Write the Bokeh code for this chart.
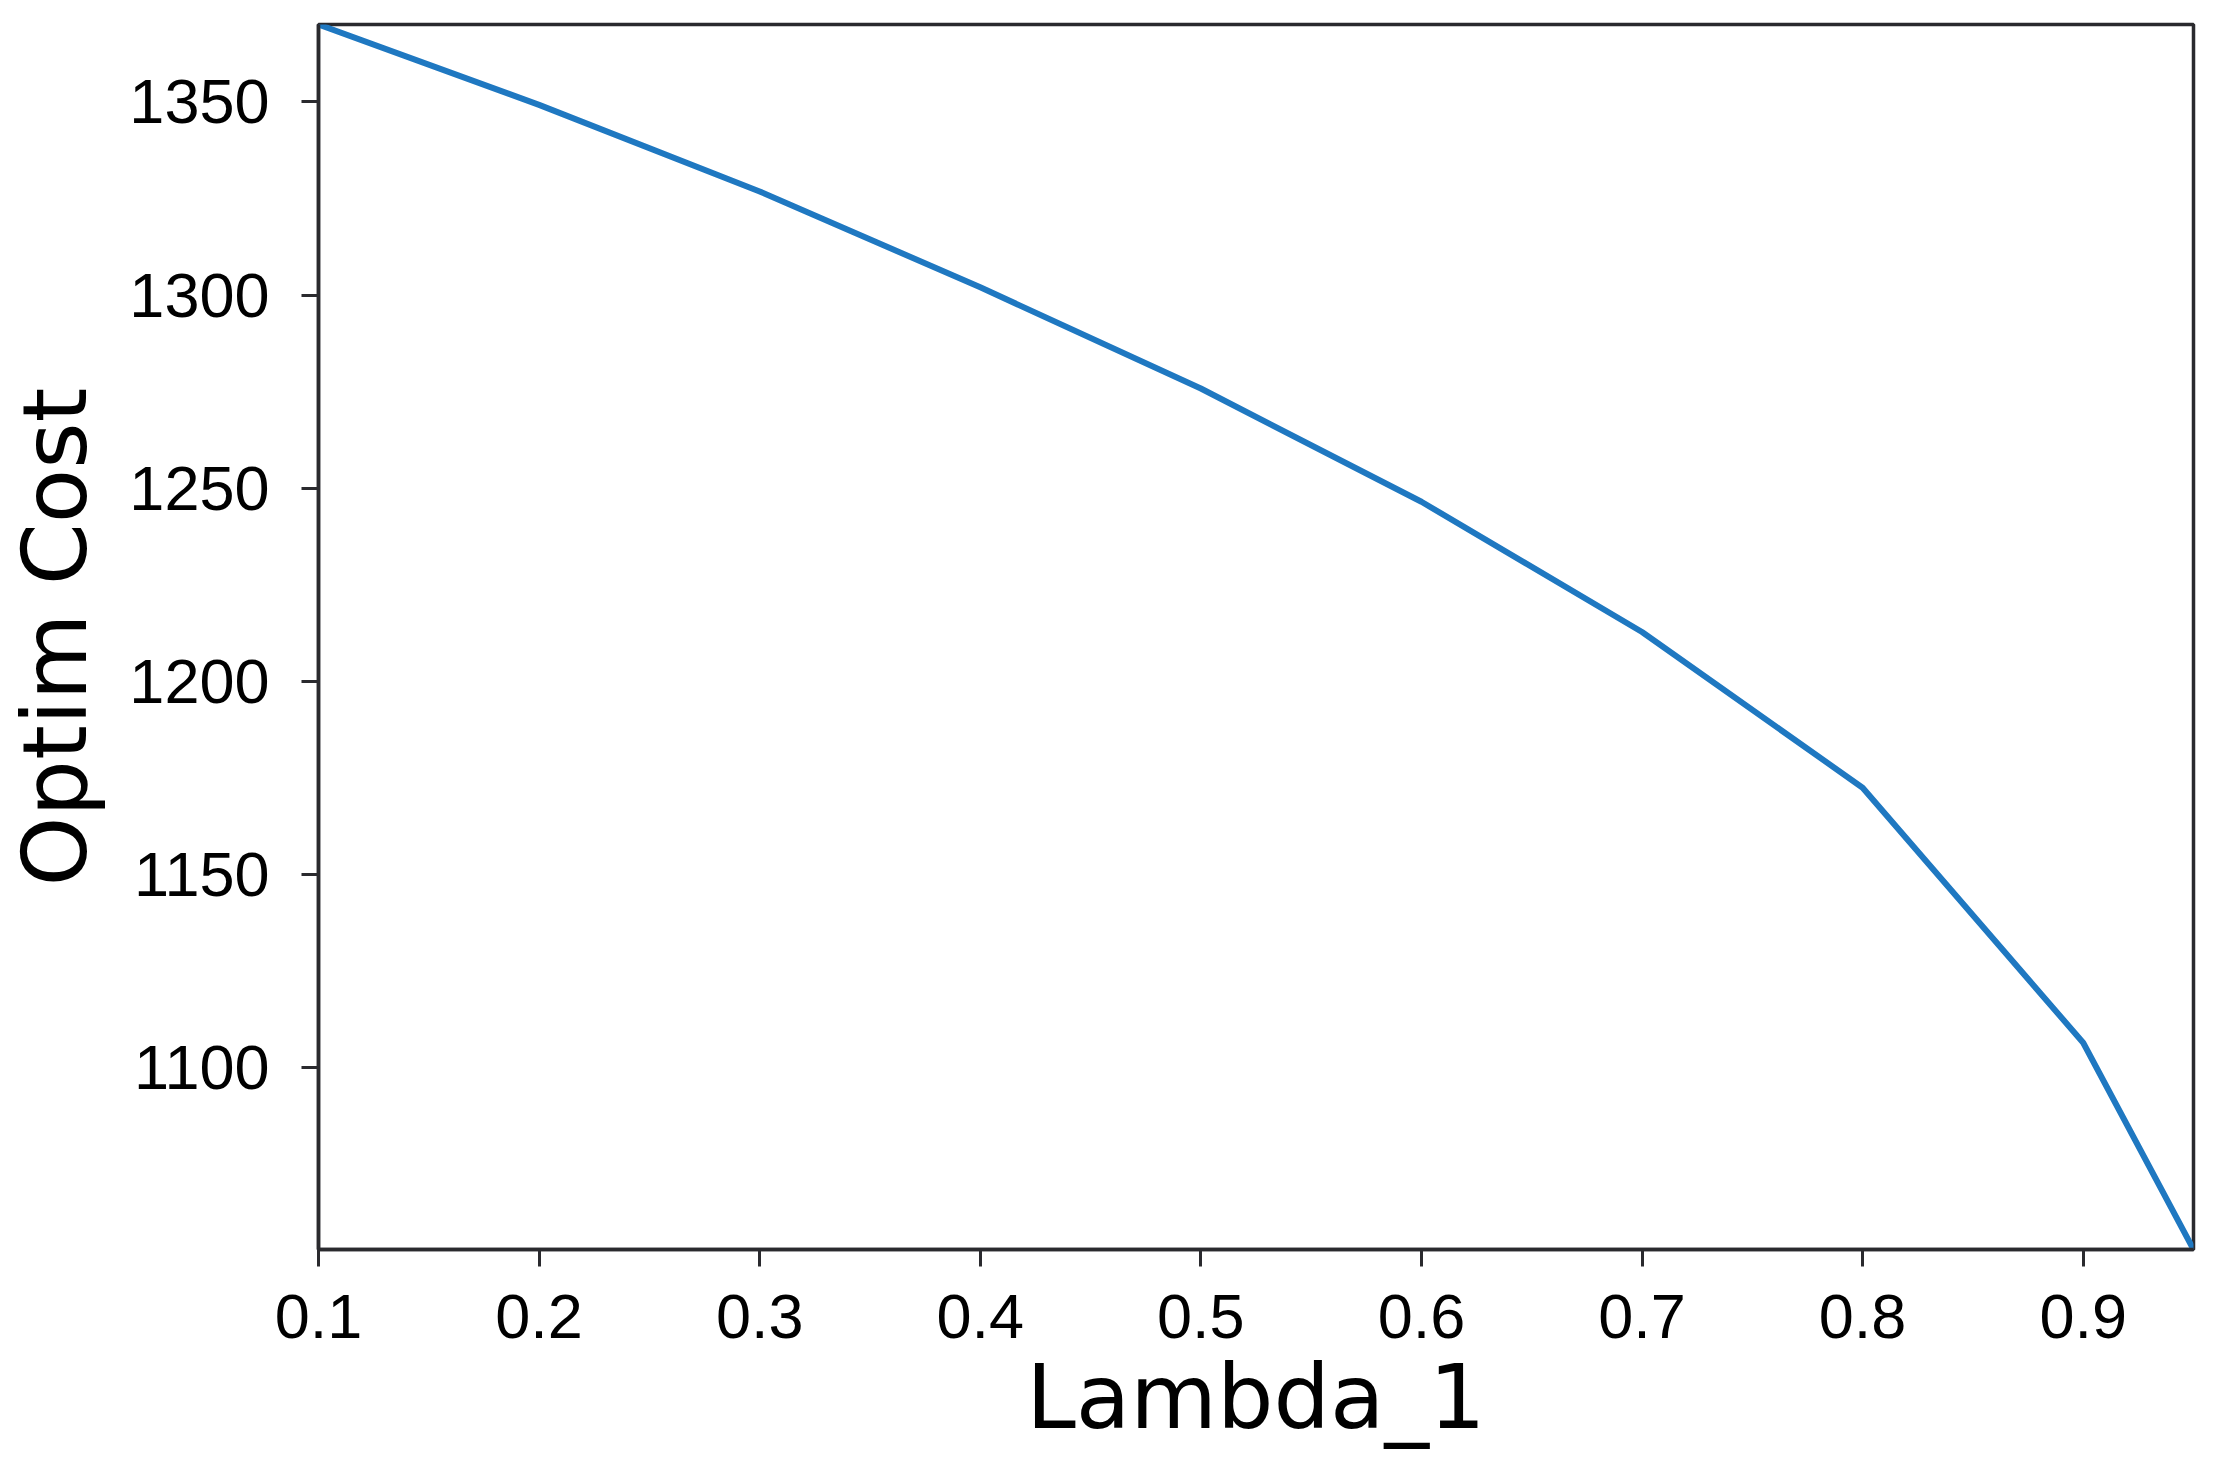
from bokeh.plotting import figure
from bokeh.models import Range1d, FixedTicker
from bokeh.embed import file_html
from bokeh.resources import INLINE

# data
lambda_1 = [0.1, 0.2, 0.3, 0.4, 0.5, 0.6, 0.7, 0.8, 0.9, 0.95]
optim_cost = [1370.0, 1349.2, 1326.8, 1302.0, 1275.8, 1246.5, 1212.8, 1172.5, 1106.5, 1053.0]
x_ticks = [0.1, 0.2, 0.3, 0.4, 0.5, 0.6, 0.7, 0.8, 0.9]
y_ticks = [1100, 1150, 1200, 1250, 1300, 1350]

p = figure(width=2203, height=1451, output_backend="svg", toolbar_location=None,
           x_range=Range1d(0.1, 0.95), y_range=Range1d(1053, 1370),
           min_border_left=310, min_border_top=24, min_border_right=10, min_border_bottom=201)

p.line(lambda_1, optim_cost, line_color="#1f78c1", line_width=6)

p.xgrid.visible = False
p.ygrid.visible = False
p.background_fill_color = "white"
p.border_fill_color = "white"
p.outline_line_color = "#2a2a2e"
p.outline_line_width = 3.5
p.outline_line_alpha = 1.0

p.xaxis.ticker = FixedTicker(ticks=x_ticks)
p.yaxis.ticker = FixedTicker(ticks=y_ticks)

for ax in (p.xaxis[0], p.yaxis[0]):
    ax.axis_line_color = "#2a2a2e"
    ax.axis_line_width = 3.5
    ax.major_tick_line_color = "#2a2a2e"
    ax.major_tick_line_width = 3
    ax.major_tick_in = 0
    ax.major_tick_out = 17
    ax.minor_tick_line_color = None
    ax.major_label_text_font = "Liberation Sans"
    ax.major_label_text_font_size = "63px"
    ax.major_label_text_color = "black"
    ax.axis_label_text_font = "DejaVu Sans"
    ax.axis_label_text_font_size = "89px"
    ax.axis_label_text_font_style = "normal"
    ax.axis_label_text_color = "black"

p.xaxis.axis_label = "Lambda_1"
p.yaxis.axis_label = "Optim Cost"
p.xaxis.major_label_standoff = 28
p.yaxis.major_label_standoff = 32
p.xaxis.axis_label_standoff = 4
p.yaxis.axis_label_standoff = 19

open("out.html", "w").write(file_html(p, INLINE))
